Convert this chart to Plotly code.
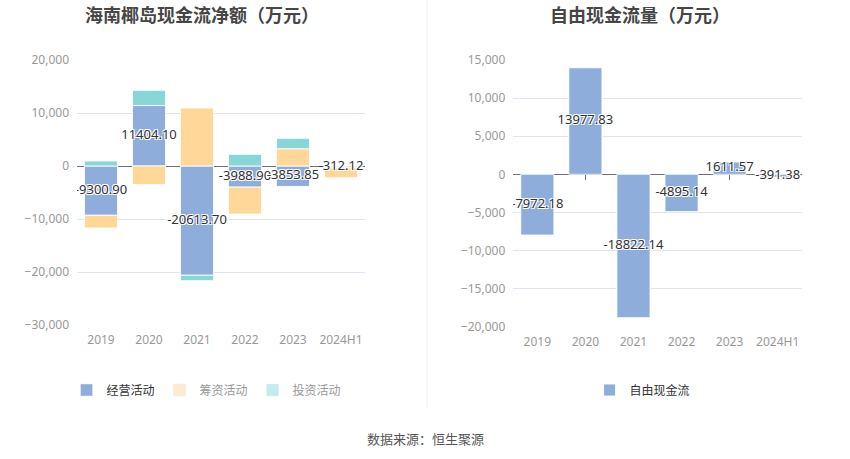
import plotly.graph_objects as go

# ---- data ----
years = ["2019", "2020", "2021", "2022", "2023", "2024H1"]
operating = [-9300.90, 11404.10, -20613.70, -3988.90, -3853.85, -312.12]
financing = [-2400, -3500, 10950, -5070, 3260, -1900]
investing = [950, 2880, -1030, 2200, 1970, 0]
free_cf = [-7972.18, 13977.83, -18822.14, -4895.14, 1611.57, -391.38]

left_title = "海南椰岛现金流净额（万元）"
right_title = "自由现金流量（万元）"
source = "数据来源：恒生聚源"

# ---- style ----
BLUE = "#8eaddb"
ORANGE = "#ffd899"
TEAL = "#88d6d8"
ORANGE_L = "#ffead0"
TEAL_L = "#c3ecec"
NUMFONT = "Noto Sans, Noto Sans CJK SC, sans-serif"
CJK = "Noto Sans CJK SC, sans-serif"

L_RANGE = [-30000, 20000]
R_RANGE = [-20000, 15000]
L_DOM_Y = [1 - 325 / 459, 1 - 60 / 459]
R_DOM_Y = [1 - 326.7 / 459, 1 - 60 / 459]

fig = go.Figure()

def fmt(v):
    return f"{v:.2f}"

bar_line = dict(color="rgba(255,255,255,0.9)", width=1)

# left stacked bars
for name, vals, col in [("经营活动", operating, BLUE),
                        ("筹资活动", financing, ORANGE),
                        ("投资活动", investing, TEAL)]:
    fig.add_trace(go.Bar(x=years, y=vals, marker=dict(color=col, line=bar_line),
                         xaxis="x", yaxis="y", showlegend=False, name=name,
                         hoverinfo="skip"))

# legend entries (left)
for name, col, tcol in [("经营活动", BLUE, "#333333"),
                        ("筹资活动", ORANGE_L, "#999999"),
                        ("投资活动", TEAL_L, "#999999")]:
    fig.add_trace(go.Bar(x=[None], y=[None], marker=dict(color=col),
                         name=f"<span style='color:{tcol}'>{name}</span>",
                         xaxis="x", yaxis="y", legend="legend"))

shadow = "1px 1px 0 #fff, -1px -1px 0 #fff, 1px -1px 0 #fff, -1px 1px 0 #fff"

fig.add_trace(go.Scatter(x=years, y=[v / 2 for v in operating], mode="text",
                         text=[fmt(v) for v in operating],
                         textfont=dict(color="#333333", size=13, family=NUMFONT, shadow=shadow),
                         xaxis="x", yaxis="y", showlegend=False, hoverinfo="skip"))

# right bars
fig.add_trace(go.Bar(x=years, y=free_cf, marker=dict(color=BLUE, line=bar_line),
                     name="自由现金流", xaxis="x2", yaxis="y2", legend="legend2",
                     hoverinfo="skip"))
fig.add_trace(go.Scatter(x=years, y=[v / 2 for v in free_cf], mode="text",
                         text=[fmt(v) for v in free_cf],
                         textfont=dict(color="#333333", size=13, family=NUMFONT, shadow=shadow),
                         xaxis="x2", yaxis="y2", showlegend=False, hoverinfo="skip"))

def zero_pos(rng, dom):
    frac = (0 - rng[0]) / (rng[1] - rng[0])
    return dom[0] + (dom[1] - dom[0]) * frac

xcommon = dict(type="category", showgrid=False, zeroline=False, showline=False,
               ticks="", tickfont=dict(size=12, color="#999999", family=NUMFONT),
               fixedrange=True, automargin=False, ticklabelstandoff=6)
ycommon = dict(showgrid=True, gridcolor="#e0e6f1", gridwidth=1, zeroline=True,
               zerolinecolor="#6e7079", zerolinewidth=1, ticks="",
               tickformat=",", tickfont=dict(size=12, color="#999999", family=NUMFONT),
               showline=False, fixedrange=True, automargin=False, ticklabelstandoff=7)

fig.update_layout(
    width=850, height=459,
    margin=dict(l=0, r=0, t=0, b=0, autoexpand=False),
    paper_bgcolor="white", plot_bgcolor="white",
    barmode="relative", bargap=0.31,
    font=dict(family=CJK),
    xaxis=dict(domain=[77 / 850, 365 / 850], anchor="y", **xcommon),
    yaxis=dict(domain=L_DOM_Y, anchor="x", range=L_RANGE, dtick=10000, **ycommon),
    xaxis2=dict(domain=[513.3 / 850, 801.7 / 850], anchor="y2", **xcommon),
    yaxis2=dict(domain=R_DOM_Y, anchor="x2", range=R_RANGE, dtick=5000, **ycommon),
    xaxis3=dict(domain=[513.3 / 850, 801.7 / 850], anchor="free", overlaying="x2",
                position=zero_pos(R_RANGE, R_DOM_Y), range=[-0.5, len(years) - 0.5],
                tickvals=list(range(len(years))), showticklabels=False,
                ticks="outside", ticklen=5, tickcolor="#6e7079", showgrid=False,
                zeroline=False, showline=False, layer="below traces", fixedrange=True,
                automargin=False),
    legend=dict(orientation="h", x=0.243, xanchor="center", y=1 - 390 / 459,
                yanchor="middle", font=dict(size=12, color="#333333", family=CJK),
                itemclick=False, itemdoubleclick=False, bgcolor="rgba(0,0,0,0)"),
    legend2=dict(orientation="h", x=0.756, xanchor="center", y=1 - 390 / 459,
                 yanchor="middle", font=dict(size=12, color="#333333", family=CJK),
                 itemclick=False, itemdoubleclick=False, bgcolor="rgba(0,0,0,0)"),
    showlegend=True,
)

# invisible trace to activate xaxis3
fig.add_trace(go.Scatter(x=[None], y=[None], xaxis="x3", yaxis="y2",
                         showlegend=False, hoverinfo="skip"))

fig.add_annotation(text=f"<b>{left_title}</b>", x=202 / 850, y=1 - 14 / 459,
                   xref="paper", yref="paper", showarrow=False,
                   font=dict(size=18, color="#464646", family=CJK),
                   xanchor="center", yanchor="middle")
fig.add_annotation(text=f"<b>{right_title}</b>", x=640 / 850, y=1 - 14 / 459,
                   xref="paper", yref="paper", showarrow=False,
                   font=dict(size=18, color="#464646", family=CJK),
                   xanchor="center", yanchor="middle")
fig.add_annotation(text=source, x=0.5, y=1 - 438 / 459, xref="paper", yref="paper",
                   showarrow=False, font=dict(size=13, color="#555555", family=CJK),
                   xanchor="center", yanchor="middle")
fig.add_shape(type="line", xref="paper", yref="paper", x0=427 / 850, x1=427 / 850,
              y0=1 - 408 / 459, y1=1.0, line=dict(color="#eeeeee", width=1))

fig.write_html("out.html", config={"displayModeBar": False},
               post_script="document.body.style.margin='0';document.body.style.overflow='hidden';")
